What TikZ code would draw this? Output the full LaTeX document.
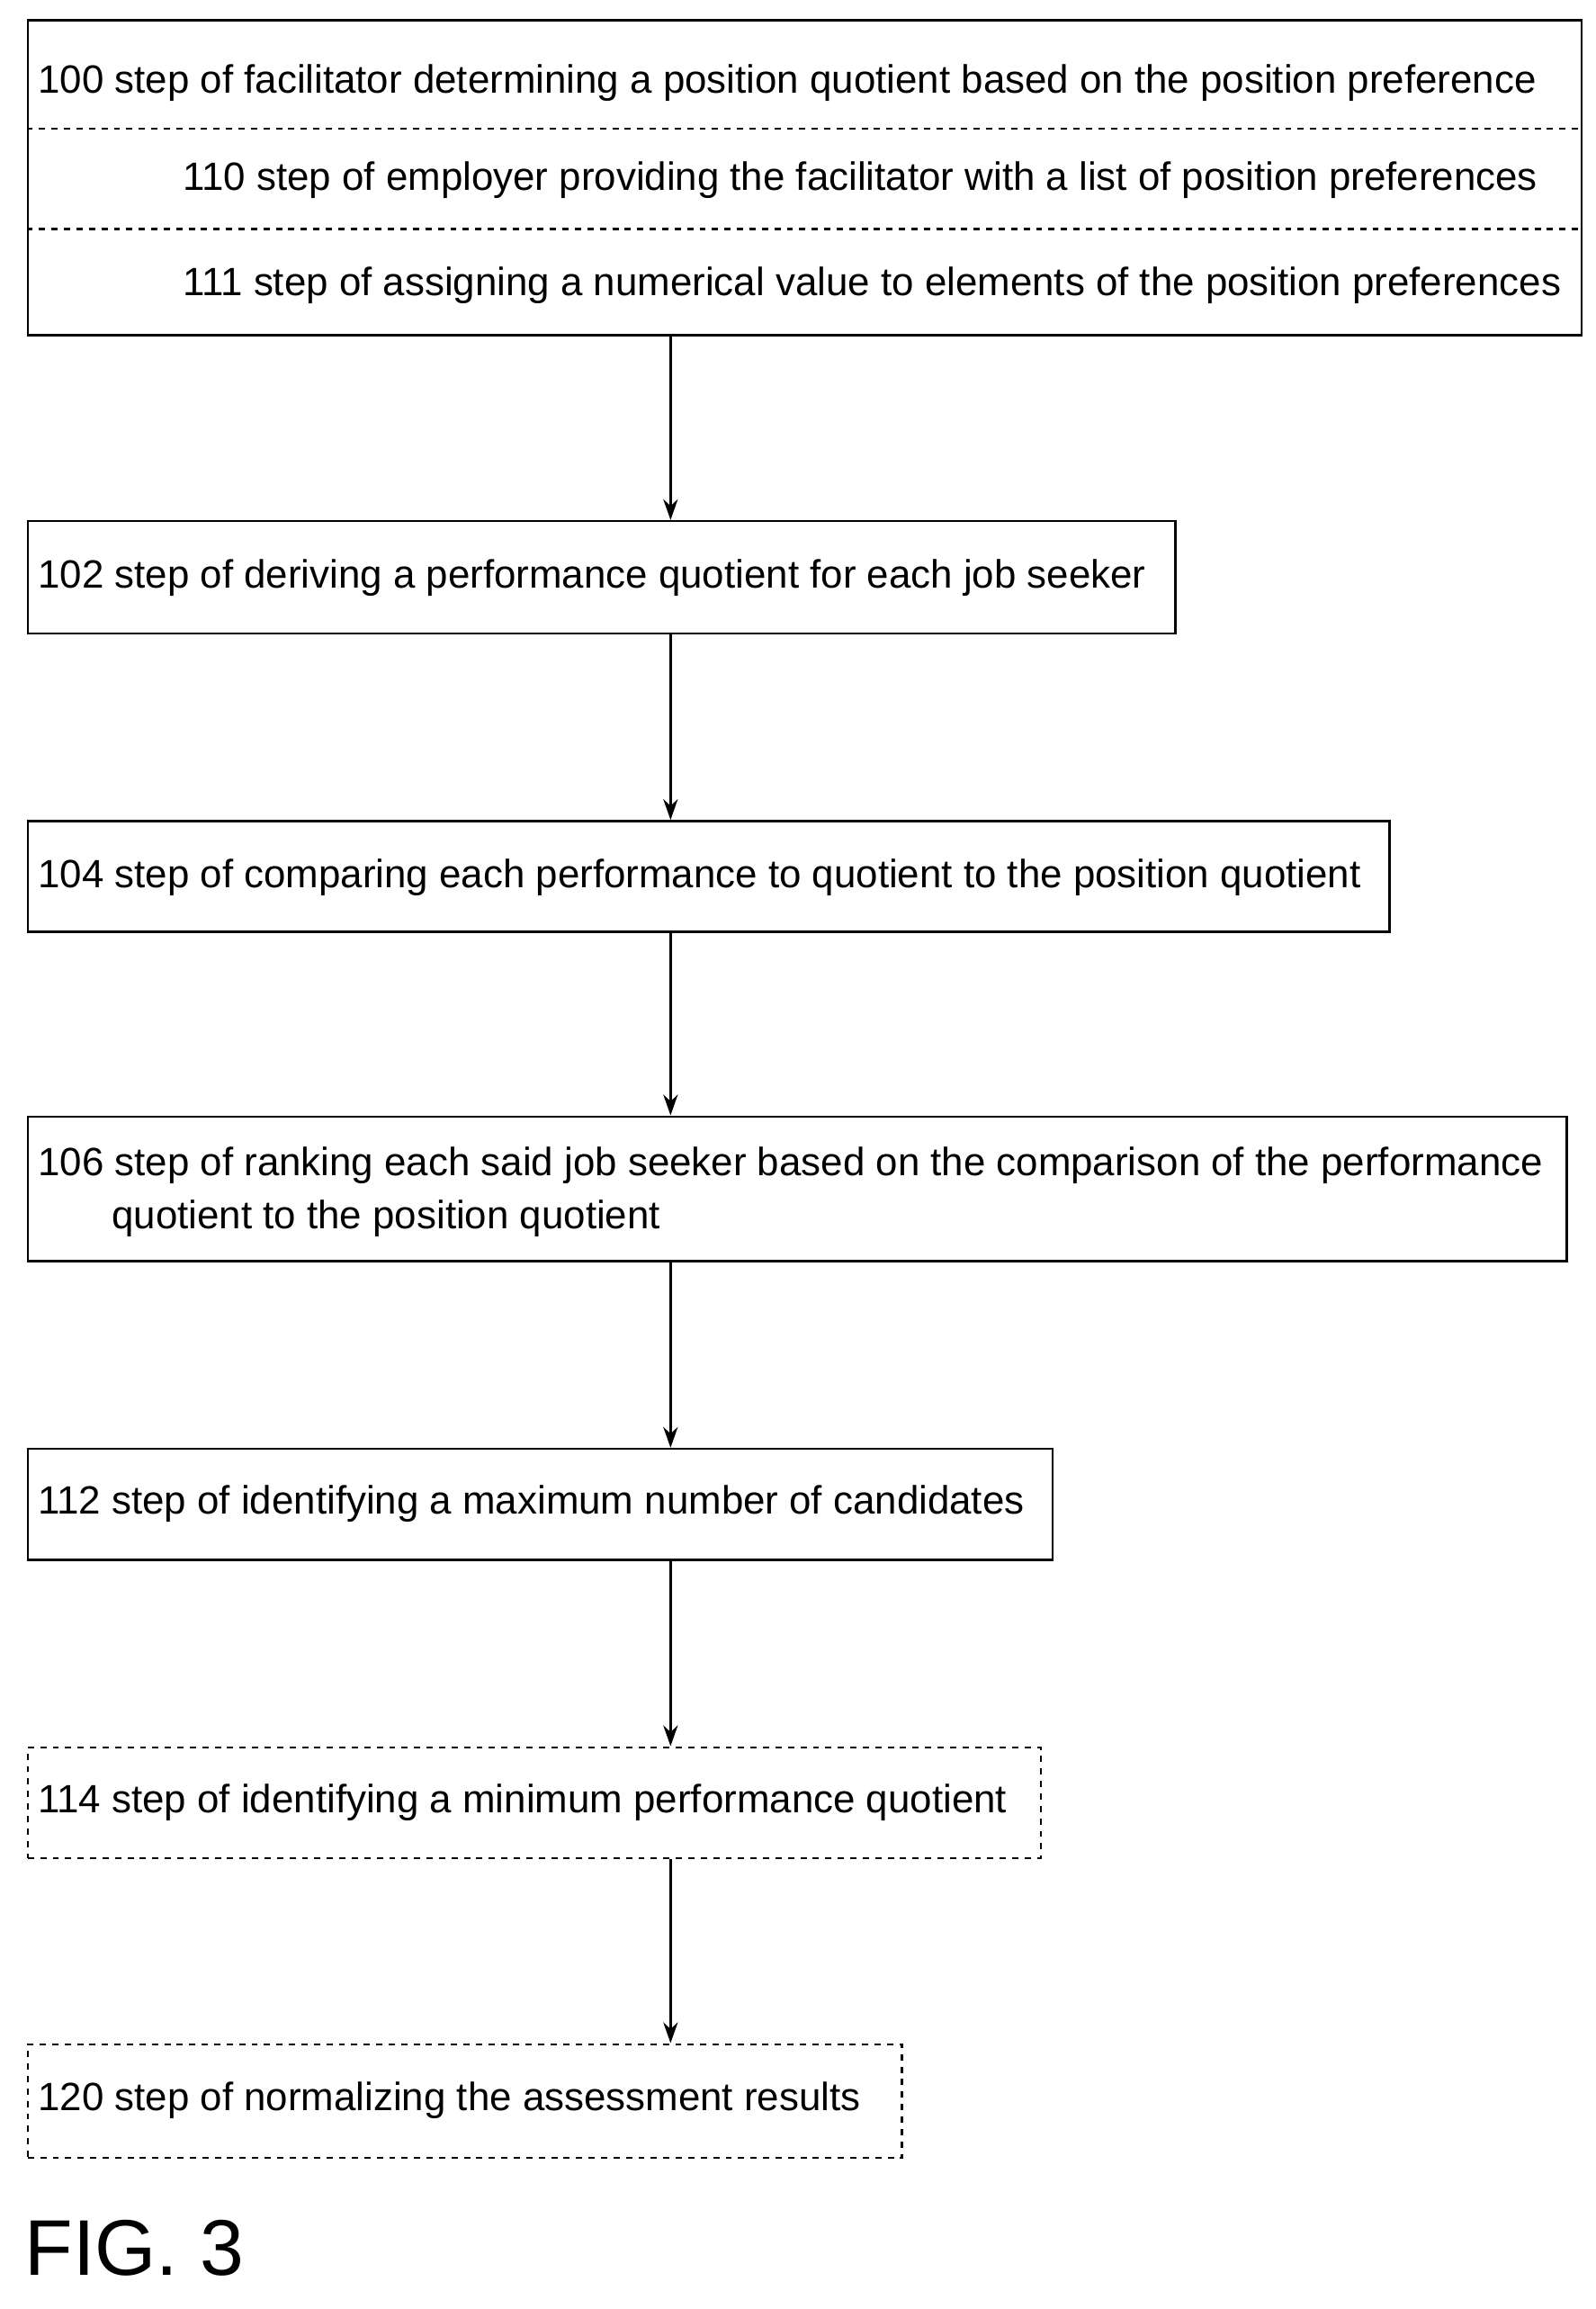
\documentclass[tikz,border=0pt]{standalone}
\usepackage{fontspec}
\setmainfont{Liberation Sans}
\usetikzlibrary{arrows.meta}
\begin{document}
\begin{tikzpicture}[x=0.025cm, y=-0.025cm, line width=1.1pt,
  box/.style={draw, anchor=north west, inner sep=0pt},
  steptext/.style={anchor=west, inner sep=0pt, font=\fontsize{19}{22}\selectfont},
  flow/.style={-{Stealth[length=10pt,width=7pt]}}]

\useasboundingbox (0,0) rectangle (1080,1563);

% Kroky
\node[box, minimum width=1052*0.025cm, minimum height=213*0.025cm] (s100) at (18,13) {};
\draw[dashed] (18,87) -- (1070,87);
\draw[dashed] (18,155) -- (1070,155);
\node[steptext] (t100) at (25,56) {100 step of facilitator determining a position quotient based on the position preference};
\node[steptext] (t110) at (123,122) {110 step of employer providing the facilitator with a list of position preferences};
\node[steptext] (t111) at (123,193) {111 step of assigning a numerical value to elements of the position preferences};

\node[box, minimum width=777*0.025cm, minimum height=76*0.025cm] (s102) at (18,352) {};
\node[steptext] (t102) at (25,391) {102 step of deriving a performance quotient for each job seeker};

\node[box, minimum width=922*0.025cm, minimum height=75*0.025cm] (s104) at (18,555) {};
\node[steptext] (t104) at (25,594) {104 step of comparing each performance to quotient to the position quotient};

\node[box, minimum width=1042*0.025cm, minimum height=98*0.025cm] (s106) at (18,755) {};
\node[steptext] (t106) at (25,789) {106 step of ranking each said job seeker based on the comparison of the performance};
\node[steptext] (t106b) at (75,825) {quotient to the position quotient};

\node[box, minimum width=694*0.025cm, minimum height=75*0.025cm] (s112) at (18,980) {};
\node[steptext] (t112) at (25,1018) {112 step of identifying a maximum number of candidates};

\node[box, dashed, minimum width=686*0.025cm, minimum height=75*0.025cm] (s114) at (18,1182) {};
\node[steptext] (t114) at (25,1220) {114 step of identifying a minimum performance quotient};

\node[box, dashed, minimum width=592*0.025cm, minimum height=77*0.025cm] (s120) at (18,1383) {};
\node[steptext] (t120) at (25,1422) {120 step of normalizing the assessment results};

% Spojnice
\coordinate (a100) at (454,226);
\draw[flow] (a100) -- (a100 |- s102.north);
\draw[flow] (a100 |- s102.south) -- (a100 |- s104.north);
\draw[flow] (a100 |- s104.south) -- (a100 |- s106.north);
\draw[flow] (a100 |- s106.south) -- (a100 |- s112.north);
\draw[flow] (a100 |- s112.south) -- (a100 |- s114.north);
\draw[flow] (a100 |- s114.south) -- (a100 |- s120.north);

\node[anchor=west, inner sep=0pt, font=\fontsize{38}{44}\selectfont] (fig) at (16,1522) {FIG. 3};
\end{tikzpicture}
\end{document}
